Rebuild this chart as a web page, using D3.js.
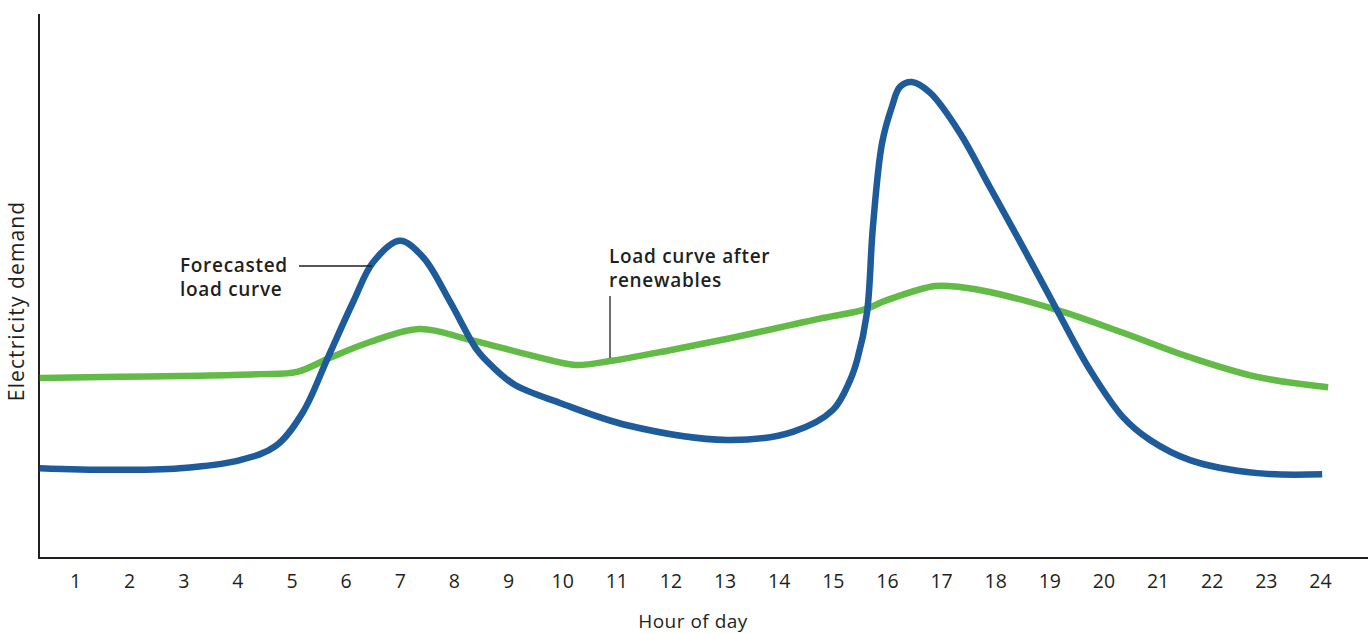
<!DOCTYPE html>
<html>
<head>
<meta charset="utf-8">
<script src="https://cdn.jsdelivr.net/npm/d3@7"></script>
<style>
  html, body { margin: 0; padding: 0; background: #fff; }
  svg { display: block; }
  text { font-family: "Open Sans", Roboto, sans-serif; fill: #231f20; }
</style>
</head>
<body>
<svg id="chart" width="1369" height="633"></svg>
<script>
// ---- Data ----
const hourTicks = [1,2,3,4,5,6,7,8,9,10,11,12,13,14,15,16,17,18,19,20,21,22,23,24];

const forecastHours = [0.35,1.65,2.94,4.05,4.71,5.21,5.67,6.14,6.51,7.0,7.43,7.93,8.43,8.72,9.13,9.96,11.2,13.05,14.26,15.0,15.32,15.45,15.63,15.74,15.91,16.09,16.24,16.46,16.8,17.35,17.9,18.51,19.14,19.75,20.36,20.86,21.6,22.84,24.04];
const forecastDemand = [16.5,16.2,16.5,18.0,20.6,26.8,36.8,47.1,54.4,58.3,55.3,47.1,38.2,35.1,31.8,28.5,24.4,21.7,23.2,27.2,32.7,36.4,45.0,60.8,76.3,82.9,86.6,87.5,85.5,78.1,68.2,57.2,45.6,34.6,25.9,21.7,18.0,15.6,15.4];

const renewHours = [0.35,1.83,3.31,4.42,5.1,5.71,6.45,7.37,8.3,9.41,10.24,10.88,11.99,13.1,14.21,14.76,15.56,16.0,16.89,17.35,17.9,19.14,20.36,21.6,22.84,24.15];
const renewDemand = [33.1,33.3,33.5,33.8,34.2,36.8,39.7,42.1,40.1,37.3,35.5,36.2,38.2,40.4,42.8,44.0,45.6,47.4,50.0,49.8,48.9,45.6,41.4,36.9,33.3,31.4];

const xTitle = "Hour of day";
const yTitle = "Electricity demand";
const forecastLabel = ["Forecasted", "load curve"];
const renewLabel = ["Load curve after", "renewables"];

// ---- Layout ----
const svg = d3.select("#chart");
const x = d3.scaleLinear().domain([1, 24]).range([75, 1320]);
const y = d3.scaleLinear().domain([0, 100]).range([558, 14]);

const blue = "#1d5b9a";
const green = "#62bb46";

// Frame (axis lines)
svg.append("line")
  .attr("x1", 39).attr("x2", 39).attr("y1", y(100)).attr("y2", y(0) + 1)
  .attr("stroke", "#231f20").attr("stroke-width", 2);
svg.append("line")
  .attr("x1", 38).attr("x2", 1368).attr("y1", y(0)).attr("y2", y(0))
  .attr("stroke", "#231f20").attr("stroke-width", 2);

// X axis tick labels
const xAxis = d3.axisBottom(x).tickValues(hourTicks).tickSize(0).tickPadding(0).tickFormat(d3.format("d"));
const gx = svg.append("g").attr("transform", `translate(0,${y(0) + 16})`).call(xAxis);
gx.select(".domain").remove();
gx.selectAll("text")
  .attr("font-size", 19.5).attr("font-family", "'Open Sans', sans-serif").attr("fill", "#231f20")
  .attr("dy", "0.72em");

// Axis titles
svg.append("text").attr("x", 693).attr("y", 628).attr("text-anchor", "middle")
  .attr("font-size", 19).attr("letter-spacing", 0.5).text(xTitle);
svg.append("text").attr("transform", "translate(23.5,301) rotate(-90)").attr("text-anchor", "middle")
  .attr("font-size", 21).attr("letter-spacing", 1.1).text(yTitle);

// Lines
const line = d3.line().x(d => x(d[0])).y(d => y(d[1])).curve(d3.curveCatmullRom.alpha(0.5));
const renewData = renewHours.map((h, i) => [h, renewDemand[i]]);
const forecastData = forecastHours.map((h, i) => [h, forecastDemand[i]]);

svg.append("path").datum(renewData).attr("d", line)
  .attr("fill", "none").attr("stroke", green).attr("stroke-width", 6.5).attr("stroke-linecap", "butt");
svg.append("path").datum(forecastData).attr("d", line)
  .attr("fill", "none").attr("stroke", blue).attr("stroke-width", 6.5).attr("stroke-linecap", "butt");

// Annotations
const ann1 = svg.append("text").attr("x", 180).attr("y", 272).attr("font-size", 19)
  .attr("font-weight", 600).attr("letter-spacing", 0.7);
forecastLabel.forEach((t, i) => ann1.append("tspan").attr("x", 180).attr("dy", i === 0 ? 0 : 24).text(t));
svg.append("line").attr("x1", 299).attr("x2", 372).attr("y1", 266).attr("y2", 266)
  .attr("stroke", "#231f20").attr("stroke-width", 1.3);

const ann2 = svg.append("text").attr("x", 609).attr("y", 263).attr("font-size", 19)
  .attr("font-weight", 600).attr("letter-spacing", 0.7);
renewLabel.forEach((t, i) => ann2.append("tspan").attr("x", 609).attr("dy", i === 0 ? 0 : 24).text(t));
svg.append("line").attr("x1", 610).attr("x2", 610).attr("y1", 296).attr("y2", y(36.2) - 3)
  .attr("stroke", "#231f20").attr("stroke-width", 1.3);
</script>
</body>
</html>
